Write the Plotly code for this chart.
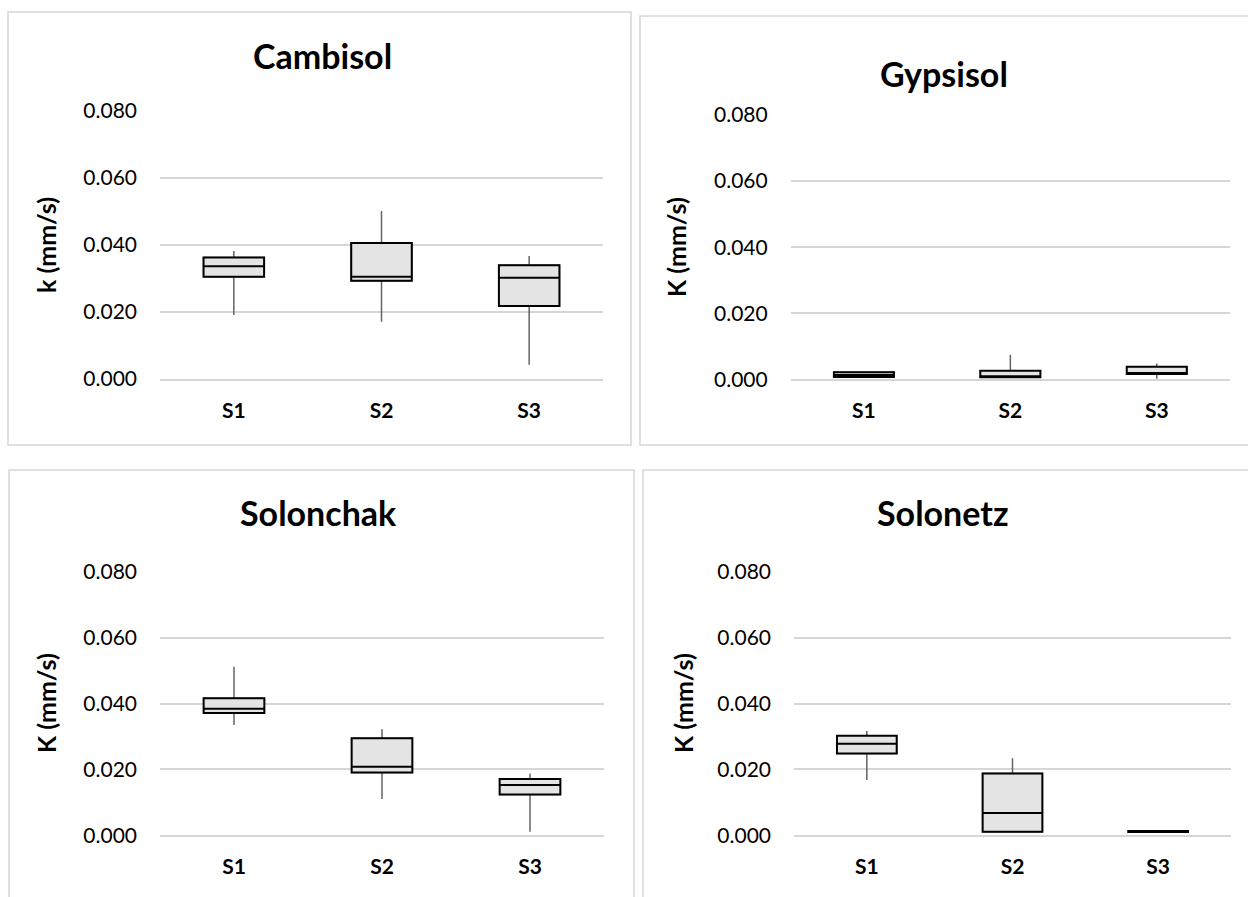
import plotly.graph_objects as go

W, H = 1248, 897

categories = ["S1", "S2", "S3"]
y_ticks = [0.0, 0.02, 0.04, 0.06, 0.08]
y_tick_labels = ["0.000", "0.020", "0.040", "0.060", "0.080"]

panel_titles = ["Cambisol", "Gypsisol", "Solonchak", "Solonetz"]
y_titles = ["k (mm/s)", "K (mm/s)", "K (mm/s)", "K (mm/s)"]

cambisol_lower = [0.0190, 0.0170, 0.0041]
cambisol_q1 = [0.0304, 0.0292, 0.0217]
cambisol_med = [0.0336, 0.0304, 0.0301]
cambisol_q3 = [0.0362, 0.0405, 0.0339]
cambisol_upper = [0.0381, 0.0501, 0.0366]

gypsisol_lower = [0.0005, 0.0005, 0.0002]
gypsisol_q1 = [0.0007, 0.0006, 0.0016]
gypsisol_med = [0.0013, 0.0008, 0.0017]
gypsisol_q3 = [0.0021, 0.0026, 0.0038]
gypsisol_upper = [0.0022, 0.0074, 0.0048]

solonchak_lower = [0.0335, 0.0110, 0.0011]
solonchak_q1 = [0.0371, 0.0191, 0.0124]
solonchak_med = [0.0384, 0.0208, 0.0153]
solonchak_q3 = [0.0416, 0.0295, 0.0171]
solonchak_upper = [0.0512, 0.0322, 0.0188]

solonetz_lower = [0.0168, 0.0010, 0.0010]
solonetz_q1 = [0.0248, 0.0011, 0.0010]
solonetz_med = [0.0278, 0.0068, 0.0011]
solonetz_q3 = [0.0302, 0.0188, 0.0013]
solonetz_upper = [0.0317, 0.0234, 0.0013]

datasets = [
    (cambisol_lower, cambisol_q1, cambisol_med, cambisol_q3, cambisol_upper),
    (gypsisol_lower, gypsisol_q1, gypsisol_med, gypsisol_q3, gypsisol_upper),
    (solonchak_lower, solonchak_q1, solonchak_med, solonchak_q3, solonchak_upper),
    (solonetz_lower, solonetz_q1, solonetz_med, solonetz_q3, solonetz_upper),
]

FONT = "Lato"
GRID = "#d6d6d6"
FILL = "#e4e4e4"

# plot-area pixel boxes: x0, x1, y(0.000), y(0.080)
areas = [
    (160, 603, 378.5, 111),
    (790.7, 1230, 379.3, 115),
    (160, 604, 835.3, 571.8),
    (794, 1231, 835.3, 571.8),
]
# panel border boxes (px)
panels = [
    (8, 631, 12, 445),
    (640, 1252, 16, 445),
    (9, 634, 470, 902),
    (643, 1252, 470, 902),
]
title_pos = [(322, 55), (944, 73), (318, 512), (943, 512)]
ytitle_pos = [(46, 245), (676, 247), (46, 703), (683, 703)]

fig = go.Figure()
layout = dict(
    width=W, height=H,
    margin=dict(l=0, r=0, t=0, b=0, pad=0, autoexpand=False),
    paper_bgcolor="white", plot_bgcolor="white",
    showlegend=False, boxmode="overlay",
    font=dict(family=FONT, color="black"),
)
shapes = []
annotations = []

for i, (lo, q1, md, q3, up) in enumerate(datasets):
    n = "" if i == 0 else str(i + 1)
    xa, ya = "x" + n, "y" + n
    # whiskers (gray)
    fig.add_trace(go.Box(
        x=categories, q1=q1, median=md, q3=q3, lowerfence=lo, upperfence=up,
        xaxis=xa, yaxis=ya, width=0.41, whiskerwidth=0,
        line=dict(color="#636363", width=1.5), fillcolor=FILL,
        boxpoints=False, hoverinfo="skip",
    ))
    # box (black outline)
    fig.add_trace(go.Box(
        x=categories, q1=q1, median=md, q3=q3, lowerfence=q1, upperfence=q3,
        xaxis=xa, yaxis=ya, width=0.41, whiskerwidth=0,
        line=dict(color="black", width=2), fillcolor=FILL,
        boxpoints=False, hoverinfo="skip",
    ))
    x0, x1, yb, yt = areas[i]
    layout["xaxis" + n] = dict(
        domain=[x0 / W, x1 / W], anchor=ya,
        type="category", categoryorder="array", categoryarray=categories,
        range=[-0.5, 2.5], automargin=False,
        showgrid=False, zeroline=False, showline=True, linecolor=GRID, linewidth=1.6,
        ticks="", ticklabelstandoff=12,
        tickfont=dict(family=FONT, size=21, color="black", weight="bold"),
    )
    layout["yaxis" + n] = dict(
        domain=[1 - yb / H, 1 - yt / H], anchor=xa, automargin=False,
        range=[0, 0.08], tickvals=y_ticks, ticktext=y_tick_labels,
        showgrid=True, gridcolor=GRID, gridwidth=1.6, zeroline=False, showline=False,
        ticks="", ticklabelstandoff=22,
        tickfont=dict(family=FONT, size=21, color="black"),
    )
    px0, px1, py0, py1 = panels[i]
    shapes.append(dict(
        type="rect", xref="paper", yref="paper",
        x0=px0 / W, x1=px1 / W, y0=1 - py1 / H, y1=1 - py0 / H,
        line=dict(color=GRID, width=1.5), fillcolor="rgba(0,0,0,0)", layer="below",
    ))
    tx, ty = title_pos[i]
    annotations.append(dict(
        text="<b>" + panel_titles[i] + "</b>", xref="paper", yref="paper",
        x=tx / W, y=1 - ty / H, xanchor="center", yanchor="middle", showarrow=False,
        font=dict(family=FONT, size=34, color="black"),
    ))
    ax, ay = ytitle_pos[i]
    annotations.append(dict(
        text="<b>" + y_titles[i] + "</b>", xref="paper", yref="paper",
        x=ax / W, y=1 - ay / H, xanchor="center", yanchor="middle", showarrow=False,
        textangle=-90, font=dict(family=FONT, size=25, color="black"),
    ))

layout["shapes"] = shapes
layout["annotations"] = annotations
fig.update_layout(**layout)
fig.write_html(
    "out.html",
    config={"displayModeBar": False},
    post_script="document.body.style.margin='0';document.body.style.overflow='hidden';",
)
